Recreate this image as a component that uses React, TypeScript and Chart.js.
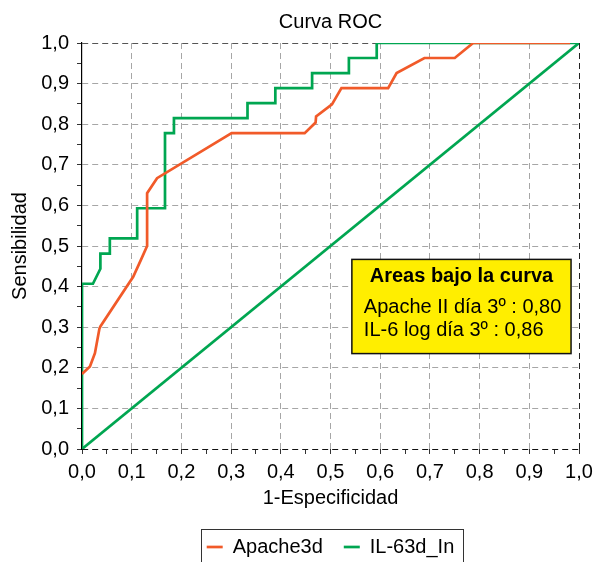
import { useEffect, useRef } from 'react';
import { Chart, registerables } from 'chart.js';

Chart.register(...registerables);

const FONT = '"Liberation Sans", Arial, Helvetica, sans-serif';

const chartTitle = 'Curva ROC';
const xTitle = '1-Especificidad';
const yTitle = 'Sensibilidad';
const seriesNames = ['Apache3d', 'IL-63d_In'];

// Apache II day 3 ROC curve (1-specificity, sensitivity)
const apacheFpr = [0, 0.016, 0.026, 0.035, 0.037, 0.103, 0.119, 0.131, 0.131, 0.151, 0.301, 0.448, 0.47, 0.471, 0.503, 0.522, 0.616, 0.633, 0.689, 0.75, 0.787, 0.982];
const apacheSens = [0.185, 0.203, 0.236, 0.296, 0.302, 0.424, 0.467, 0.5, 0.63, 0.667, 0.778, 0.778, 0.804, 0.819, 0.849, 0.889, 0.889, 0.926, 0.963, 0.963, 1.0, 1.0];

// IL-6 log day 3 ROC curve
const il6Fpr = [0, 0, 0.022, 0.037, 0.037, 0.056, 0.056, 0.111, 0.111, 0.167, 0.167, 0.185, 0.185, 0.333, 0.333, 0.389, 0.389, 0.463, 0.463, 0.537, 0.537, 0.593, 0.593, 1.0];
const il6Sens = [0, 0.407, 0.407, 0.444, 0.481, 0.481, 0.519, 0.519, 0.593, 0.593, 0.778, 0.778, 0.815, 0.815, 0.852, 0.852, 0.889, 0.889, 0.926, 0.926, 0.963, 0.963, 1.0, 1.0];

// reference diagonal
const refFpr = [0, 1];
const refSens = [0, 1];

const axisMin = 0;
const axisMax = 1;
const minorStep = 0.05;

const areaTitle = 'Areas bajo la curva';
const areaLines = ['Apache II día 3º : 0,80', 'IL-6 log día 3º : 0,86'];
// annotation box extent in data units [x0, x1, yTop, yBottom]
const areaBox = [0.543, 0.984, 0.467, 0.235];

const ORANGE = '#F15A29';
const GREEN = '#00A651';
const GRID = '#a6a6a6';

const toPoints = (xs: number[], ys: number[]) => xs.map((x, i) => ({ x, y: ys[i] }));

const pct = (v: number) => Math.round(v * 100);
const tickLabel = (v: any) => {
  const n = pct(Number(v));
  return n % 10 === 0 ? (n / 100).toFixed(1).replace('.', ',') : '';
};

const gridColorFn = (zeroColor: string, oneColor: string) => (ctx: any) => {
  if (!ctx.tick) return GRID;
  const n = pct(ctx.tick.value);
  if (n % 10 !== 0) return 'rgba(0,0,0,0)';
  if (n === 0) return zeroColor;
  if (n === 100) return oneColor;
  return GRID;
};

const annotationPlugin = {
  id: 'areaBox',
  afterDatasetsDraw(chart: any) {
    const { ctx, scales } = chart;
    const xs = scales.x;
    const ys = scales.y;
    const l = xs.getPixelForValue(areaBox[0]);
    const r = xs.getPixelForValue(areaBox[1]);
    const t = ys.getPixelForValue(areaBox[2]);
    const b = ys.getPixelForValue(areaBox[3]);
    ctx.save();
    ctx.fillStyle = '#FFEE00';
    ctx.fillRect(l, t, r - l, b - t);
    ctx.lineWidth = 1.5;
    ctx.strokeStyle = '#111';
    ctx.strokeRect(l, t, r - l, b - t);
    ctx.fillStyle = '#000';
    ctx.textBaseline = 'middle';
    ctx.textAlign = 'center';
    ctx.font = `bold 20px ${FONT}`;
    ctx.fillText(areaTitle, (l + r) / 2, t + 17);
    ctx.textAlign = 'left';
    ctx.font = `20px ${FONT}`;
    areaLines.forEach((line, i) => {
      ctx.fillText(line, l + 12, t + 48 + i * 23.5);
    });
    ctx.restore();
  },
};

const legendFramePlugin = {
  id: 'legendFrame',
  afterDraw(chart: any) {
    const lg = chart.legend;
    if (!lg || !lg.legendHitBoxes || !lg.legendHitBoxes.length) return;
    const boxes = lg.legendHitBoxes;
    const first = boxes[0];
    const last = boxes[boxes.length - 1];
    const { ctx } = chart;
    ctx.save();
    ctx.strokeStyle = '#333';
    ctx.lineWidth = 1;
    const left = Math.round(first.left - 6) + 0.5;
    const right = Math.round(last.left + last.width + 9) + 0.5;
    const top = Math.round(first.top - 8) + 0.5;
    ctx.strokeRect(left, top, right - left, 60);
    ctx.restore();
  },
};

export default function App() {
  const ref = useRef<HTMLCanvasElement | null>(null);

  useEffect(() => {
    if (!ref.current) return;
    const chart = new Chart(ref.current, {
      type: 'scatter',
      data: {
        datasets: [
          {
            label: seriesNames[0],
            data: toPoints(apacheFpr, apacheSens),
            showLine: true,
            borderColor: ORANGE,
            backgroundColor: ORANGE,
            borderWidth: 2.7,
            pointRadius: 0,
            pointHoverRadius: 0,
            tension: 0,
          },
          {
            label: seriesNames[1],
            data: toPoints(il6Fpr, il6Sens),
            showLine: true,
            borderColor: GREEN,
            backgroundColor: GREEN,
            borderWidth: 2.7,
            pointRadius: 0,
            pointHoverRadius: 0,
            tension: 0,
          },
          {
            label: 'ref',
            data: toPoints(refFpr, refSens),
            showLine: true,
            borderColor: GREEN,
            backgroundColor: GREEN,
            borderWidth: 2.7,
            pointRadius: 0,
            pointHoverRadius: 0,
          },
        ],
      },
      options: {
        responsive: false,
        animation: false,
        devicePixelRatio: 1,
        layout: { padding: { left: 0, right: 12, top: 0, bottom: 0 } },
        plugins: {
          tooltip: { enabled: false },
          title: {
            display: true,
            text: chartTitle,
            fullSize: false,
            color: '#000',
            font: { family: FONT, size: 20, weight: 'normal' },
            padding: { top: 10, bottom: 9 },
          },
          legend: {
            display: true,
            position: 'bottom',
            fullSize: false,
            labels: {
              filter: (item: any) => item.datasetIndex < 2,
              usePointStyle: true,
              pointStyle: 'line',
              pointStyleWidth: 16,
              color: '#000',
              padding: 21,
              font: { family: FONT, size: 20 },
            },
          },
        },
        scales: {
          x: {
            type: 'linear',
            min: axisMin,
            max: axisMax,
            afterFit: (s: any) => {
              s.height = 67;
              s.paddingRight = 17;
            },
            ticks: {
              stepSize: minorStep,
              autoSkip: false,
              maxRotation: 0,
              minRotation: 0,
              padding: 6,
              color: '#000',
              font: { family: FONT, size: 20 },
              callback: tickLabel,
            },
            grid: {
              color: gridColorFn('rgba(0,0,0,0)', '#222'),
              lineWidth: 1,
              drawTicks: true,
              tickLength: 5,
              tickColor: '#333',
            },
            border: { display: false, dash: [6, 4] },
            title: {
              display: true,
              text: xTitle,
              color: '#000',
              font: { family: FONT, size: 20 },
              padding: { top: 0, bottom: 6 },
            },
          },
          y: {
            type: 'linear',
            min: axisMin,
            max: axisMax,
            afterFit: (s: any) => {
              s.width = 82;
            },
            ticks: {
              stepSize: minorStep,
              autoSkip: false,
              padding: 8,
              color: '#000',
              font: { family: FONT, size: 20 },
              callback: tickLabel,
            },
            grid: {
              color: gridColorFn('#111', '#555'),
              lineWidth: 1,
              drawTicks: true,
              tickLength: 5,
              tickColor: '#333',
            },
            border: { display: true, color: '#000', width: 1.2, dash: [6, 4] },
            title: {
              display: true,
              text: yTitle,
              color: '#000',
              font: { family: FONT, size: 20 },
              padding: { top: 8, bottom: 0 },
            },
          },
        },
      },
      plugins: [annotationPlugin, legendFramePlugin],
    } as any);
    return () => chart.destroy();
  }, []);

  return (
    <canvas
      ref={ref}
      width={596}
      height={567}
      style={{ position: 'fixed', left: 0, top: 0, width: 596, height: 567 }}
    />
  );
}
